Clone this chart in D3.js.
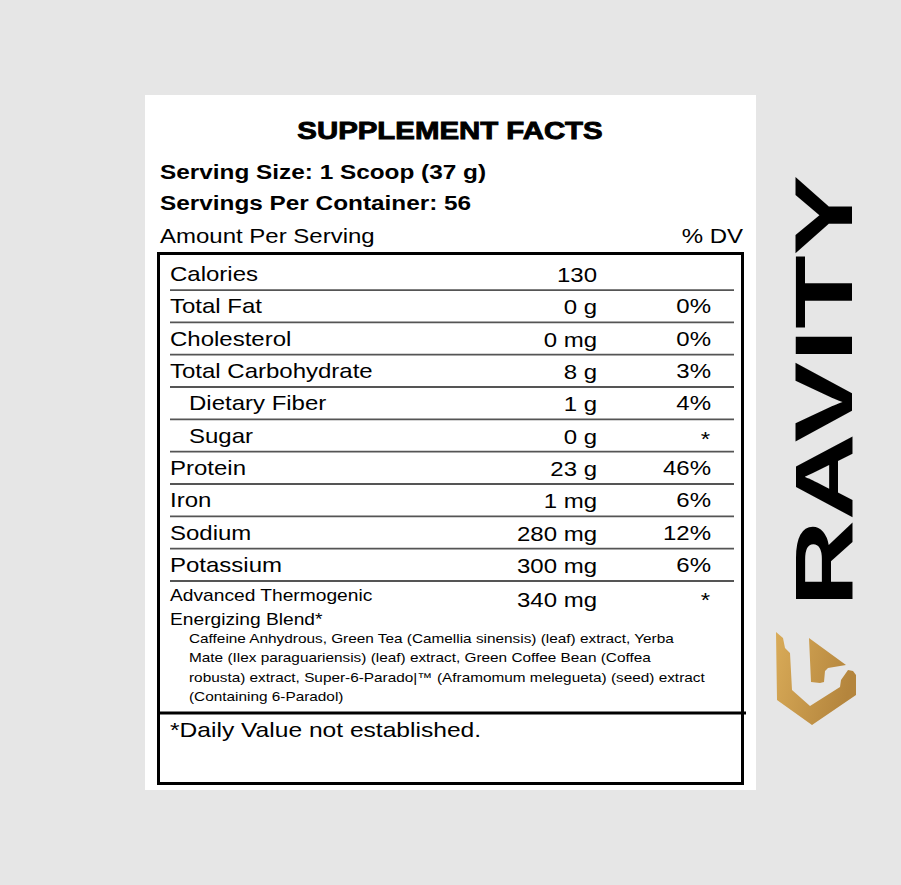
<!DOCTYPE html>
<html>
<head>
<meta charset="utf-8">
<script src="https://cdn.jsdelivr.net/npm/d3@7"></script>
<style>
body { margin: 0; background: #e6e6e6; }
svg { display: block; }
</style>
</head>
<body>
<script>
// label content
var title = "SUPPLEMENT FACTS";
var servingLines = ["Serving Size: 1 Scoop (37 g)", "Servings Per Container: 56"];
var headerLeft = "Amount Per Serving";
var headerRight = "% DV";

var nutrients = ["Calories", "Total Fat", "Cholesterol", "Total Carbohydrate", "Dietary Fiber",
                 "Sugar", "Protein", "Iron", "Sodium", "Potassium"];
var amounts = ["130", "0 g", "0 mg", "8 g", "1 g", "0 g", "23 g", "1 mg", "280 mg", "300 mg"];
var dailyValues = ["", "0%", "0%", "3%", "4%", "*", "46%", "6%", "12%", "6%"];
var indented = ["Dietary Fiber", "Sugar"];

var blendName = ["Advanced Thermogenic", "Energizing Blend*"];
var blendAmount = "340 mg";
var blendDv = "*";
var blendIngredients = [
  "Caffeine Anhydrous, Green Tea (Camellia sinensis) (leaf) extract, Yerba",
  "Mate (Ilex paraguariensis) (leaf) extract, Green Coffee Bean (Coffea",
  "robusta) extract, Super-6-Parado|\u2122 (Aframomum melegueta) (seed) extract",
  "(Containing 6-Paradol)"
];
var footnote = "*Daily Value not established.";
var brand = "RAVITY";

var W = 901, H = 885;
var stretch = 1.2; // the label artwork is widened horizontally

var svg = d3.select("body").append("svg")
    .attr("width", W)
    .attr("height", H);

svg.append("rect").attr("width", W).attr("height", H).attr("fill", "#e6e6e6");

// white label panel
svg.append("rect")
    .attr("x", 145).attr("y", 95)
    .attr("width", 611).attr("height", 695)
    .attr("fill", "#fff");

// helper: stretched text
function txt(x, y, s, size, anchor, weight) {
  return svg.append("text")
      .attr("transform", "translate(" + x + "," + y + ") scale(" + stretch + ",1)")
      .attr("text-anchor", anchor || "start")
      .attr("font-family", "Liberation Sans, Arial, sans-serif")
      .attr("font-size", size)
      .attr("font-weight", weight || "normal")
      .attr("fill", "#000")
      .text(s);
}

// title and serving info
txt(450, 139, title, 24.5, "middle", "bold")
    .attr("stroke", "#000").attr("stroke-width", 0.9);
servingLines.forEach(function (s, i) {
  txt(160, 179 + i * 31, s, 20.3, "start", "bold");
});
txt(160, 243, headerLeft, 20, "start");
txt(743, 243, headerRight, 20, "end");

// rows
var y = d3.scaleBand()
    .domain(nutrients)
    .range([257.7, 581]);

var colName = 170, colIndent = 189, colAmount = 597, colDv = 711;

// separators under each row
svg.append("g").selectAll("line")
    .data(nutrients)
    .enter()
    .append("line")
    .attr("x1", 170).attr("x2", 734)
    .attr("y1", function (d) { return y(d) + y.bandwidth(); })
    .attr("y2", function (d) { return y(d) + y.bandwidth(); })
    .attr("stroke", "#555")
    .attr("stroke-width", 1.8);

nutrients.forEach(function (d, i) {
  var base = y(d) + y.bandwidth();
  txt(indented.indexOf(d) >= 0 ? colIndent : colName, base - 9, d, 20, "start");
  txt(colAmount, base - 8, amounts[i], 20, "end");
  if (dailyValues[i] === "*") {
    txt(colDv - 1, base - 5.5, "*", 20, "end");
  } else if (dailyValues[i]) {
    txt(colDv, base - 9, dailyValues[i], 20, "end");
  }
});

// blend
var blendTop = y(nutrients[nutrients.length - 1]) + y.bandwidth();
blendName.forEach(function (s, i) {
  txt(170, blendTop + 20 + i * 24, s, 16, "start");
});
txt(colAmount, blendTop + 26, blendAmount, 20, "end");
txt(colDv - 1, blendTop + 25.5, blendDv, 20, "end");
blendIngredients.forEach(function (s, i) {
  txt(189, blendTop + 62 + i * 19.4, s, 12.8, "start");
});

// thick rule and footnote
svg.append("line")
    .attr("x1", 160).attr("x2", 746)
    .attr("y1", 713).attr("y2", 713)
    .attr("stroke", "#000").attr("stroke-width", 3);
txt(170, 737, footnote, 20.5, "start");

// outer box
svg.append("rect")
    .attr("x", 158.5).attr("y", 253.5)
    .attr("width", 584).attr("height", 530)
    .attr("fill", "none")
    .attr("stroke", "#000")
    .attr("stroke-width", 3);

// brand mark
var defs = svg.append("defs");
var grad = defs.append("linearGradient").attr("id", "gold")
    .attr("x1", "0%").attr("y1", "0%").attr("x2", "100%").attr("y2", "30%");
grad.append("stop").attr("offset", "0%").attr("stop-color", "#d9ab58");
grad.append("stop").attr("offset", "100%").attr("stop-color", "#b4853d");

svg.append("text")
    .attr("transform", "translate(852,607) rotate(-90)")
    .attr("font-family", "Liberation Sans, Arial, sans-serif")
    .attr("font-weight", "bold")
    .attr("font-size", 82)
    .attr("textLength", 432)
    .attr("lengthAdjust", "spacingAndGlyphs")
    .attr("fill", "#000")
    .text(brand);

var outer = [[776,632],[783,638],[785,648],[790,653],[792,690],[810,706],[840,687],[841,680],
             [848,670],[853,671],[856,675],[856,695],[812,725],[777,700]];
var inner = [[809,638],[846,665],[828,668],[825,671],[824,682],[820,683],[811,682]];
var line = d3.line();
svg.append("path")
    .attr("d", line(outer) + "Z" + line(inner) + "Z")
    .attr("fill", "url(#gold)")
    .attr("fill-rule", "evenodd");
</script>
</body>
</html>
